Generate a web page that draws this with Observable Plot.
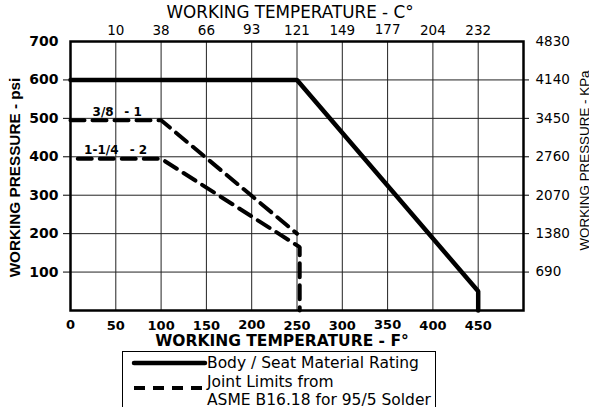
<!DOCTYPE html>
<html><head><meta charset="utf-8">
<script src="https://cdn.jsdelivr.net/npm/d3@7"></script>
<script src="https://cdn.jsdelivr.net/npm/@observablehq/plot@0.6"></script>
<style>
body{margin:0;background:#fff;}
#wrap{position:relative;width:589px;height:407px;overflow:hidden;background:#fff;font-family:"DejaVu Sans",sans-serif;}
#legend{position:absolute;left:122px;top:351px;width:314px;height:70px;border:1.5px solid #000;box-sizing:border-box;background:#fff;}
#legend svg{display:block;}
</style></head><body><div id="wrap"></div>
<script>
// ---- data ----
const fTicks = [0, 50, 100, 150, 200, 250, 300, 350, 400, 450];
const fTicksRaised = [0, 200, 350];
const gridF = [50, 100, 150, 200, 250, 300, 350, 400, 450];
const cLabels = ["10", "38", "66", "93", "121", "149", "177", "204", "232"];
const cRaised = [200, 350];
const psiTicks = [100, 200, 300, 400, 500, 600, 700];
const psiGrid = [100, 200, 300, 400, 500, 600];
const kpaLabels = ["690", "1380", "2070", "2760", "3450", "4140", "4830"];

const bodyTemp = [0, 250, 450, 450];
const bodyPsi = [600, 600, 50, 0];
const joint1Temp = [0, 100, 250];
const joint1Psi = [495, 495, 200];
const joint2Temp = [8, 100, 253, 253];
const joint2Psi = [395, 395, 165, 0];

const annText = ["3/8", "- 1", "1-1/4", "- 2"];
const annTemp = [36, 69, 34, 75];
const annPsi = [507, 507, 408, 408];

const titleTop = "WORKING TEMPERATURE - C°";
const titleBottom = "WORKING TEMPERATURE - F°";
const titleLeft = "WORKING PRESSURE - psi";
const titleRight = "WORKING PRESSURE - KPa";
const legendItems = ["Body / Seat Material Rating", "Joint Limits from", "ASME B16.18 for 95/5 Solder"];

// ---- chart ----
const cMap = new Map(gridF.map((d, i) => [d, cLabels[i]]));
const kMap = new Map(psiTicks.map((d, i) => [d, kpaLabels[i]]));
const FONT = "DejaVu Sans";
const VFONT = "Liberation Sans";

const chart = Plot.plot({
  width: 589, height: 351,
  marginLeft: 70, marginRight: 66, marginTop: 41, marginBottom: 41,
  style: {fontFamily: FONT, background: "#fff", color: "#000", overflow: "visible"},
  x: {domain: [0, 500]},
  y: {domain: [0, 700]},
  marks: [
    Plot.ruleX(gridF, {x: d => d, y1: 0, y2: 700, stroke: "#222", strokeWidth: 1}),
    Plot.ruleY(psiGrid, {y: d => d, x1: 0, x2: 500, stroke: "#222", strokeWidth: 1}),
    Plot.line({length: joint1Temp.length}, {x: joint1Temp, y: joint1Psi, stroke: "#000", strokeWidth: 4, strokeDasharray: "14,8", strokeLinejoin: "miter"}),
    Plot.line({length: joint2Temp.length}, {x: joint2Temp, y: joint2Psi, stroke: "#000", strokeWidth: 4, strokeDasharray: "14,8", strokeLinejoin: "miter"}),
    Plot.line({length: bodyTemp.length}, {x: bodyTemp, y: bodyPsi, stroke: "#000", strokeWidth: 4.5, strokeLinejoin: "miter"}),
    Plot.frame({stroke: "#000", strokeWidth: 2.5}),
    Plot.axisX({anchor: "bottom", ticks: fTicks.filter(d => !fTicksRaised.includes(d)), tickSize: 0, tickPadding: 10.5, fontSize: 13, fontWeight: "bold", label: null}),
    Plot.axisX({anchor: "bottom", ticks: fTicksRaised, tickSize: 0, tickPadding: 9, fontSize: 13, fontWeight: "bold", label: null}),
    Plot.axisX({anchor: "top", ticks: gridF.filter(d => !cRaised.includes(d)), tickSize: 0, tickPadding: 7, fontSize: 13.5, tickFormat: d => cMap.get(d), label: null}),
    Plot.axisX({anchor: "top", ticks: cRaised, tickSize: 0, tickPadding: 8, fontSize: 13.5, tickFormat: d => cMap.get(d), label: null}),
    Plot.axisY({anchor: "left", ticks: psiGrid, tickSize: 7, tickFormat: () => "", label: null}),
    Plot.axisY({anchor: "left", ticks: psiTicks, tickSize: 0, tickPadding: 12, fontSize: 14, fontWeight: "bold", label: null}),
    Plot.axisY({anchor: "right", ticks: psiGrid, tickSize: 5, tickFormat: () => "", label: null}),
    Plot.axisY({anchor: "right", ticks: psiTicks, tickSize: 0, tickPadding: 12, fontSize: 13.5, tickFormat: d => kMap.get(d), label: null}),
    Plot.text({length: annText.length}, {x: annTemp, y: annPsi, text: annText, lineAnchor: "bottom", fontSize: 12, fontWeight: "bold", fill: "#000"}),
    Plot.text([titleTop], {frameAnchor: "top", dx: -7, dy: -29, lineAnchor: "middle", fontSize: 16.8, fill: "#000"}),
    Plot.text([titleBottom], {frameAnchor: "bottom", dx: -15, dy: 30.5, lineAnchor: "middle", fontSize: 15.5, fontWeight: "bold", fill: "#000"}),
    Plot.text([titleLeft], {frameAnchor: "left", textAnchor: "middle", dx: -55, dy: 1.5, rotate: -90, lineAnchor: "middle", fontSize: 15.3, fontWeight: "bold", fontFamily: VFONT, fill: "#000"}),
    Plot.text([titleRight], {frameAnchor: "right", textAnchor: "middle", dx: 61, dy: -15.5, rotate: -90, lineAnchor: "middle", fontSize: 13.4, fontFamily: VFONT, fill: "#000"})
  ]
});

const wrap = document.getElementById("wrap");
wrap.appendChild(chart);

// ---- legend ----
const legend = document.createElement("div");
legend.id = "legend";
const ns = "http://www.w3.org/2000/svg";
const lsvg = document.createElementNS(ns, "svg");
lsvg.setAttribute("width", 314);
lsvg.setAttribute("height", 70);
const mk = (tag, attrs) => { const e = document.createElementNS(ns, tag); for (const k in attrs) e.setAttribute(k, attrs[k]); lsvg.appendChild(e); return e; };
mk("line", {x1: 11, x2: 82, y1: 11, y2: 11, stroke: "#000", "stroke-width": 4.5, "stroke-linecap": "round"});
mk("line", {x1: 11, x2: 80, y1: 36, y2: 36, stroke: "#000", "stroke-width": 4, "stroke-dasharray": "11,8"});
const baselines = [16, 35, 53];
legendItems.forEach((t, i) => {
  const tx = mk("text", {x: 84, y: baselines[i], "font-family": FONT, "font-size": 15.5, fill: "#000"});
  tx.textContent = t;
});
legend.appendChild(lsvg);
wrap.appendChild(legend);
</script>
</body></html>
